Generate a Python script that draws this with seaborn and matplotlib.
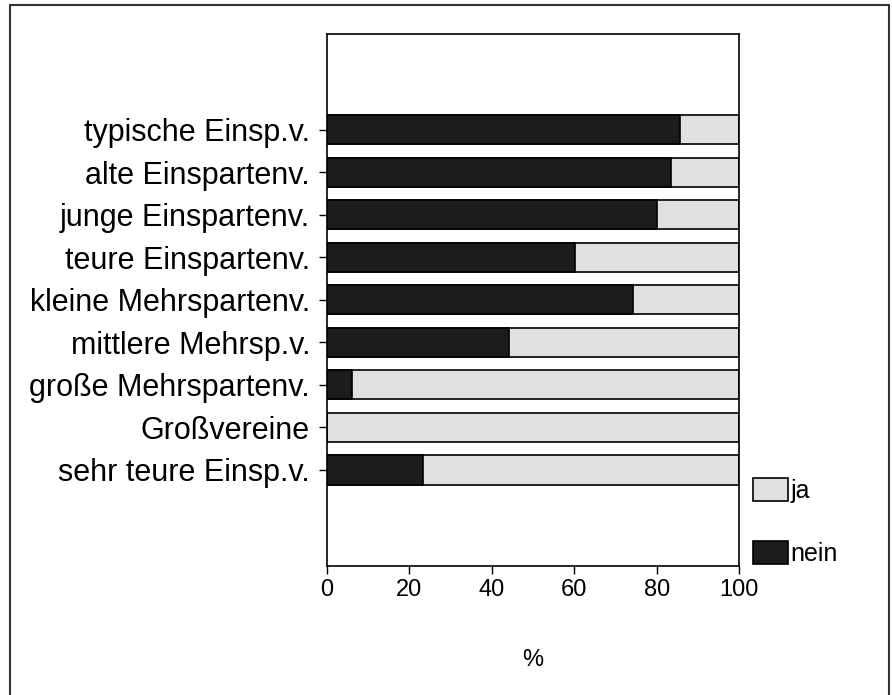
import numpy as np
import pandas as pd
import seaborn as sns
import matplotlib.pyplot as plt
from matplotlib.patches import Patch, Rectangle

categories = ["typische Einsp.v.", "alte Einspartenv.", "junge Einspartenv.",
              "teure Einspartenv.", "kleine Mehrspartenv.", "mittlere Mehrsp.v.",
              "große Mehrspartenv.", "Großvereine", "sehr teure Einsp.v."]
nein = [85.6, 83.4, 80.0, 60.1, 74.3, 44.1, 6.1, 0.0, 23.3]
ja = [14.4, 16.6, 20.0, 39.9, 25.7, 55.9, 93.9, 100.0, 76.7]

df = pd.DataFrame({"cat": categories, "nein": nein, "ja": ja})
df["total"] = df["nein"] + df["ja"]

sns.set_style("ticks")
plt.rcParams['font.family'] = ['Liberation Sans', 'DejaVu Sans']
plt.rcParams['text.color'] = 'black'
plt.rcParams['xtick.color'] = 'black'
plt.rcParams['ytick.color'] = 'black'
plt.rcParams['axes.labelcolor'] = 'black'

dark = "#1c1c1c"
light = "#e0e0e0"

fig = plt.figure(figsize=(8.92, 6.95), dpi=100)
ax = fig.add_axes([0.3663, 0.1863, 0.4626, 0.7648])

sns.barplot(x="total", y="cat", data=df, color=light, edgecolor="black",
            linewidth=1.2, width=0.69, saturation=1, ax=ax)
sns.barplot(x="nein", y="cat", data=df, color=dark, edgecolor="black",
            linewidth=1.2, width=0.69, saturation=1, ax=ax)

ax.set_xlim(0, 100)
ax.set_ylim(len(categories) - 1 + 2.25, -2.25)
ax.set_xticks([0, 20, 40, 60, 80, 100])
ax.set_xlabel("%", fontsize=17, labelpad=34)
ax.set_ylabel("")
ax.tick_params(axis="x", labelsize=17, length=6, width=1, pad=4)
ax.tick_params(axis="y", labelsize=22, length=6, width=1, pad=6)
for s in ax.spines.values():
    s.set_visible(True)
    s.set_color("black")
    s.set_linewidth(1.2)

handles = [Patch(facecolor=light, edgecolor="black", linewidth=1.2),
           Patch(facecolor=dark, edgecolor="black", linewidth=1.2)]
fig.legend(handles, ["ja", "nein"], loc="upper left",
           bbox_to_anchor=(0.8445, 0.3122), frameon=False, fontsize=18,
           handlelength=1.4, handleheight=1.05, handletextpad=0.1,
           labelspacing=1.5, borderpad=0, borderaxespad=0)

fig.patches.append(Rectangle((0.0112, -0.05), 0.9854, 1.0428, transform=fig.transFigure,
                             fill=False, edgecolor="#333333", linewidth=1.5))

fig.savefig("out.png", dpi=100)
